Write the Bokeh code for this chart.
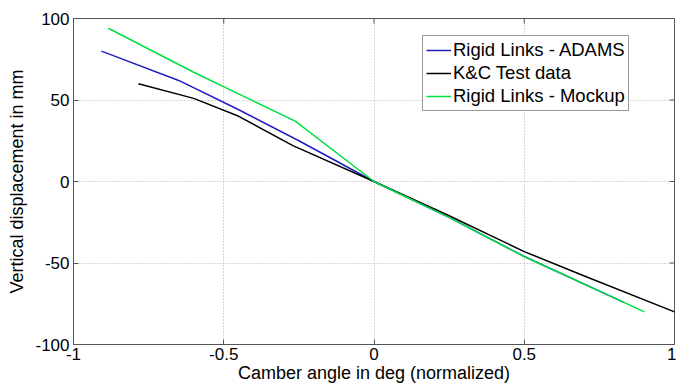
from bokeh.plotting import figure
from bokeh.models import Legend, LegendItem, FixedTicker, Range1d
from bokeh.embed import file_html
from bokeh.resources import INLINE

adams_x = [-0.907, -0.65, -0.45, -0.25, 0.0, 0.25, 0.5, 0.83]
adams_y = [80, 62, 44, 25, 0, -22, -46, -74]
kc_x = [-0.784, -0.6, -0.45, -0.27, 0.0, 0.25, 0.5, 0.7, 1.0]
kc_y = [60, 51, 40, 22, 0, -21, -43, -58, -80]
mock_x = [-0.884, -0.6, -0.262, 0.0, 0.25, 0.5, 0.9]
mock_y = [94, 67, 37, 0, -22, -46, -80]

x_ticks = [-1, -0.5, 0, 0.5, 1]
x_tick_labels = ["-1", "-0.5", "0", "0.5", "1"]
y_ticks = [-100, -50, 0, 50, 100]
y_tick_labels = ["-100", "-50", "0", "50", "100"]

FONT = "Liberation Sans"

p = figure(width=676, height=385, output_backend="svg", toolbar_location=None,
           x_range=Range1d(-1, 1), y_range=Range1d(-100, 100),
           min_border_left=73, min_border_right=2, min_border_top=18, min_border_bottom=39)
p.background_fill_color = "white"
p.border_fill_color = "white"
p.outline_line_color = "#555555"
p.outline_line_width = 1

l1 = p.line(adams_x, adams_y, line_color="#1f1fc0", line_width=1.5)
l2 = p.line(kc_x, kc_y, line_color="black", line_width=1.5)
l3 = p.line(mock_x, mock_y, line_color="#00e040", line_width=1.5)

for ax in (p.xaxis[0], p.yaxis[0]):
    ax.major_label_text_font = FONT
    ax.major_label_text_font_size = "17px"
    ax.major_label_text_color = "black"
    ax.axis_label_text_font = FONT
    ax.axis_label_text_font_size = "18px"
    ax.axis_label_text_font_style = "normal"
    ax.axis_label_text_color = "black"
    ax.major_tick_in = 5
    ax.major_tick_out = 0
    ax.minor_tick_line_color = None
    ax.axis_line_color = "#555555"
    ax.major_tick_line_color = "#555555"

p.xaxis[0].ticker = FixedTicker(ticks=x_ticks)
p.yaxis[0].ticker = FixedTicker(ticks=y_ticks)
p.xaxis[0].major_label_overrides = dict(zip(x_ticks, x_tick_labels))
p.yaxis[0].major_label_overrides = dict(zip(y_ticks, y_tick_labels))
p.xaxis[0].axis_label = "Camber angle in deg (normalized)"
p.yaxis[0].axis_label = "Vertical displacement in mm"
p.xaxis[0].major_label_standoff = 3
p.xaxis[0].axis_label_standoff = 0
p.yaxis[0].major_label_standoff = 4
p.yaxis[0].axis_label_standoff = 5

# inner tick marks on the right and top edges (box-style axes); markers are clipped to the frame
p.scatter(x=[x_ticks[-1]] * len(y_ticks), y=y_ticks, marker="dash", size=10,
          line_color="#555555", line_width=1)
p.scatter(x=x_ticks, y=[y_ticks[-1]] * len(x_ticks), marker="dash", size=10, angle=1.5708,
          line_color="#555555", line_width=1)

p.xgrid.ticker = FixedTicker(ticks=x_ticks)
p.ygrid.ticker = FixedTicker(ticks=y_ticks)
for g in (p.xgrid[0], p.ygrid[0]):
    g.grid_line_color = "#b0b0b0"
    g.grid_line_dash = "1 2"
    g.grid_line_width = 1

legend = Legend(items=[
    LegendItem(label="Rigid Links - ADAMS", renderers=[l1]),
    LegendItem(label="K&C Test data", renderers=[l2]),
    LegendItem(label="Rigid Links - Mockup", renderers=[l3]),
], location=(349, 233))
legend.label_text_font = FONT
legend.label_text_font_size = "18.5px"
legend.label_text_color = "black"
legend.glyph_width = 25
legend.glyph_height = 20
legend.label_height = 20
legend.label_standoff = 2
legend.spacing = 1
legend.padding = 3
legend.margin = 0
legend.border_line_color = "#333333"
legend.border_line_width = 1
legend.background_fill_alpha = 1
p.add_layout(legend, "center")

open("out.html", "w").write(file_html(p, INLINE))
